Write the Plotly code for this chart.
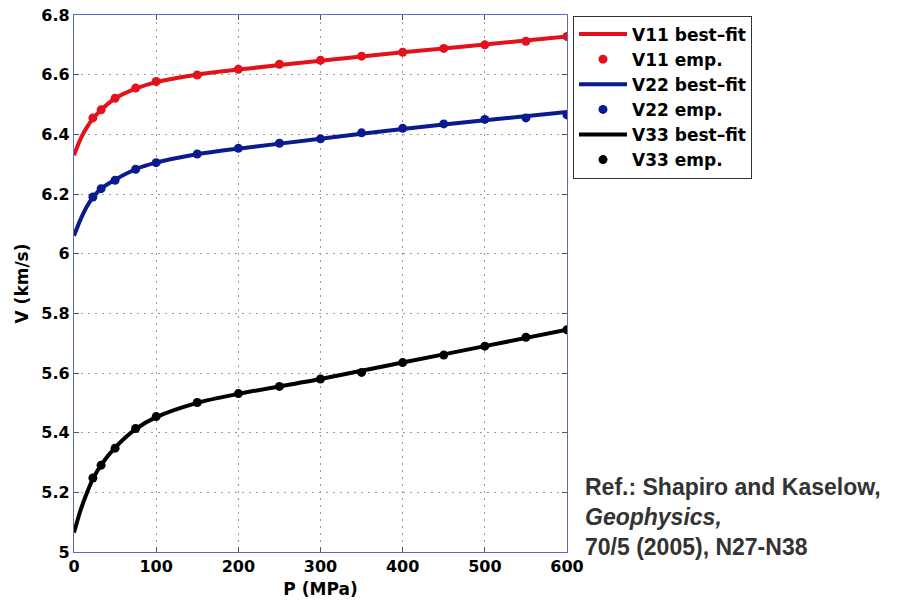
import plotly.graph_objects as go

# Empirical data (P in MPa, V in km/s)
p_emp = [23, 33, 50, 75, 100, 150, 200, 250, 300, 350, 400, 450, 500, 550, 600]
v11_emp = [6.455, 6.482, 6.521, 6.555, 6.577, 6.599, 6.618, 6.635, 6.648, 6.662, 6.675, 6.688, 6.700, 6.712, 6.728]
v22_emp = [6.190, 6.218, 6.246, 6.283, 6.305, 6.334, 6.353, 6.370, 6.385, 6.405, 6.420, 6.435, 6.450, 6.455, 6.465]
v33_emp = [5.248, 5.291, 5.348, 5.414, 5.454, 5.501, 5.531, 5.555, 5.580, 5.602, 5.635, 5.660, 5.690, 5.720, 5.745]

# Best-fit curves
p_fit = [0, 8, 16, 23, 33, 50, 75, 100, 150, 200, 300, 400, 500, 600]
v11_fit = [6.330, 6.385, 6.425, 6.452, 6.482, 6.520, 6.553, 6.575, 6.600, 6.617, 6.647, 6.675, 6.701, 6.728]
v22_fit = [6.060, 6.115, 6.160, 6.188, 6.218, 6.248, 6.283, 6.305, 6.333, 6.352, 6.385, 6.418, 6.447, 6.475]
v33_fit = [5.065, 5.140, 5.200, 5.245, 5.292, 5.350, 5.412, 5.452, 5.500, 5.530, 5.580, 5.635, 5.690, 5.745]

RED = "#e3121a"
BLUE = "#0b1a8c"
BLACK = "#000000"

fig = go.Figure()
series = [
    ("V11", v11_fit, v11_emp, RED),
    ("V22", v22_fit, v22_emp, BLUE),
    ("V33", v33_fit, v33_emp, BLACK),
]
for name, vfit, vemp, col in series:
    fig.add_trace(go.Scatter(x=p_fit, y=vfit, mode="lines", name=f"{name} best\u2013fit",
                             line=dict(color=col, width=4, shape="spline", smoothing=0.8)))
    fig.add_trace(go.Scatter(x=p_emp, y=vemp, mode="markers", name=f"{name} emp.",
                             marker=dict(color=col, size=9, symbol="circle")))

font_b = dict(family="DejaVu Sans", size=16, color="black", weight="bold")
font_t = dict(family="DejaVu Sans", size=17, color="black", weight="bold")
axcol = "#5b6bc0"
common = dict(showline=True, linecolor=axcol, linewidth=1.2, mirror="ticks", ticks="inside",
              ticklen=5, tickcolor="#555", showgrid=True, gridcolor="#999999",
              griddash="2px,5px", gridwidth=1, zeroline=False, tickfont=font_b,
              automargin=False)

fig.update_xaxes(range=[0, 600], dtick=100, title=dict(text="P (MPa)", font=font_t, standoff=7), **common)
fig.update_yaxes(range=[5, 6.8], dtick=0.2, tickformat="~g",
                 title=dict(text="V (km/s)", font=font_t, standoff=8), **common)

pw = 897 - 74 - 330
ph = 604 - 15 - 52

fig.update_layout(
    width=897, height=604,
    margin=dict(l=74, r=330, t=15, b=52),
    paper_bgcolor="white", plot_bgcolor="white",
    showlegend=True,
    legend=dict(x=(573 - 74) / pw, y=0.999, xanchor="left", yanchor="top",
                bordercolor="#333", borderwidth=1, bgcolor="white",
                font=dict(family="DejaVu Sans", size=17, color="black", weight="bold"),
                itemwidth=48, tracegroupgap=0),
    annotations=[dict(
        x=(583 - 74) / pw, y=(604 - 52 - 472) / ph, xref="paper", yref="paper", showarrow=False,
        text="<b>Ref.: Shapiro and Kaselow,</b><br><b><i>Geophysics,</i></b><br><b>70/5 (2005), N27-N38</b>",
        align="left", xanchor="left", yanchor="top",
        font=dict(family="Liberation Sans, Arial, sans-serif", size=23, color="#333"),
    )],
)

fig.write_html("out.html")
